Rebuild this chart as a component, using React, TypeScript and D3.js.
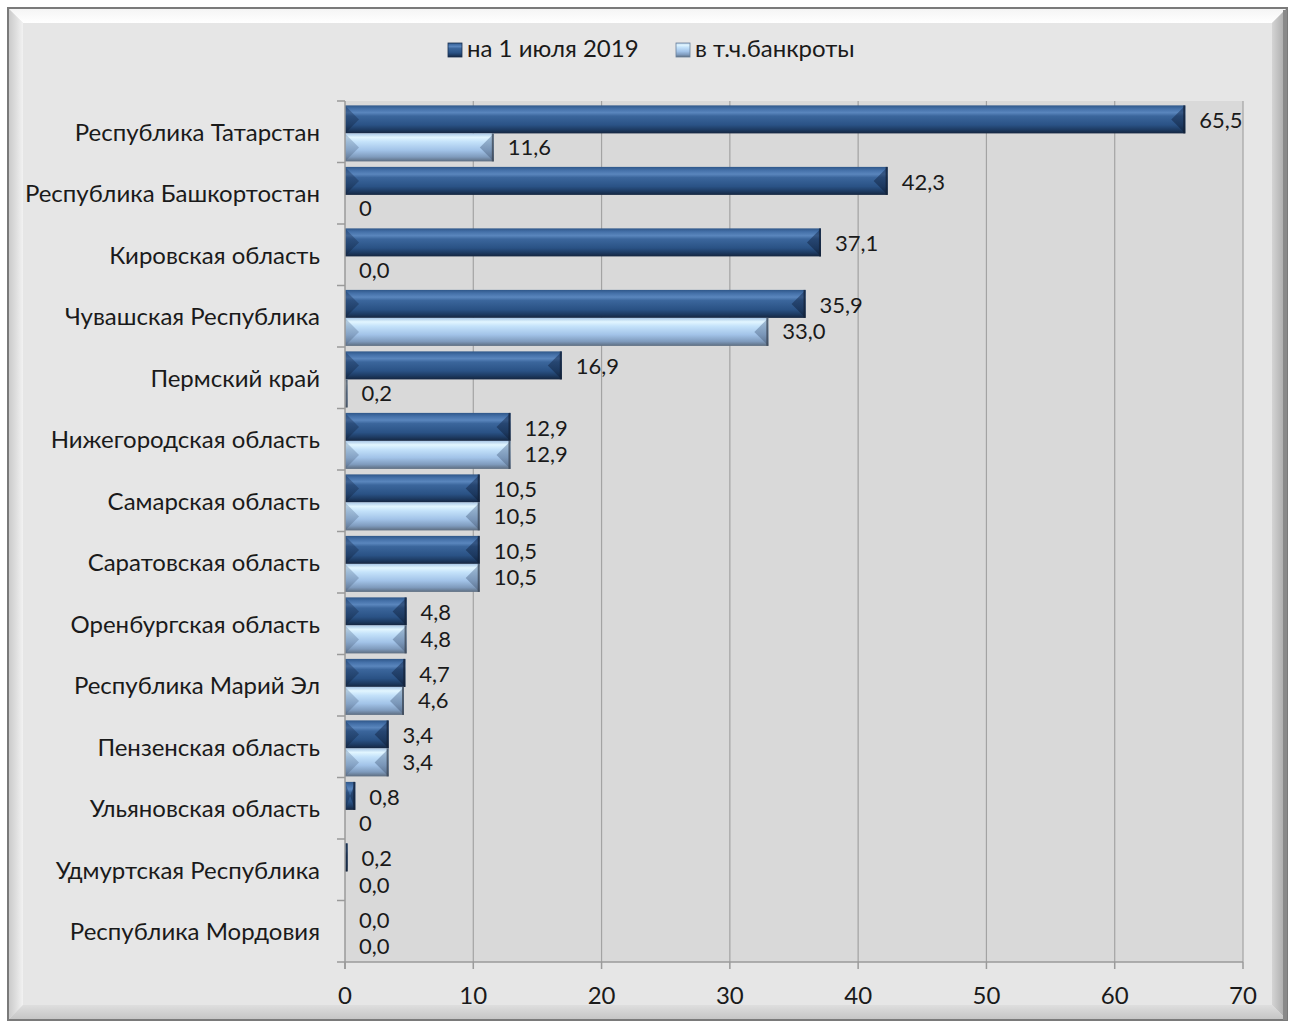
import * as d3 from 'd3'

const categories = [
  'Республика Татарстан',
  'Республика Башкортостан',
  'Кировская область',
  'Чувашская Республика',
  'Пермский край',
  'Нижегородская область',
  'Самарская область',
  'Саратовская область',
  'Оренбургская область',
  'Республика Марий Эл',
  'Пензенская область',
  'Ульяновская область',
  'Удмуртская Республика',
  'Республика Мордовия',
]
const totalValues = [65.5, 42.3, 37.1, 35.9, 16.9, 12.9, 10.5, 10.5, 4.8, 4.7, 3.4, 0.8, 0.2, 0.0]
const totalLabels = ['65,5', '42,3', '37,1', '35,9', '16,9', '12,9', '10,5', '10,5', '4,8', '4,7', '3,4', '0,8', '0,2', '0,0']
const bankruptValues = [11.6, 0, 0.0, 33.0, 0.2, 12.9, 10.5, 10.5, 4.8, 4.6, 3.4, 0, 0.0, 0.0]
const bankruptLabels = ['11,6', '0', '0,0', '33,0', '0,2', '12,9', '10,5', '10,5', '4,8', '4,6', '3,4', '0', '0,0', '0,0']
const seriesNames = ['на 1 июля 2019', 'в т.ч.банкроты']
const xTicks = [0, 10, 20, 30, 40, 50, 60, 70]

const W = 1291
const H = 1023
const plot = { left: 345, right: 1243, top: 101, bottom: 962 }
const font = 'Lato, "Open Sans", sans-serif'
const fs = 24

export default function App() {
  const x = d3.scaleLinear().domain([0, 70]).range([plot.left, plot.right])
  const y = d3.scaleBand<string>().domain(categories).range([plot.top, plot.bottom])
  const sub = d3.scaleBand<string>()
    .domain(['total', 'bankrupt'])
    .range([0, y.bandwidth()])
    .paddingOuter(0.098)
    .align(0.8)

  const series = [
    { key: 'total', values: totalValues, labels: totalLabels, grad: 'gDark', end: 'gDarkEnd', dy: 9 },
    { key: 'bankrupt', values: bankruptValues, labels: bankruptLabels, grad: 'gLight', end: 'gLightEnd', dy: 7.5 },
  ]

  const bevel = 15
  const frame = { x0: 8, y0: 8, x1: 1287, y1: 1020 }

  const bar = (v: number, top: number, h: number, grad: string, end: string, k: string, light: boolean) => {
    const x0 = x(0)
    const x1 = x(v)
    const w = x1 - x0
    if (w <= 0) return null
    const b = Math.min(14, w / 2)
    const y0 = top
    const y1 = top + h
    return (
      <g key={k}>
        <rect x={x0} y={y0} width={w} height={h} fill={`url(#${grad})`} />
        <polygon points={`${x0},${y0} ${x0 + b},${y0 + h / 2} ${x0},${y1}`} fill={`url(#${end})`} opacity={0.4} />
        <polygon points={`${x1},${y0} ${x1 - b},${y0 + h / 2} ${x1},${y1}`} fill={`url(#${end})`} opacity={0.55} />
        <line x1={x1 - 1} x2={x1 - 1} y1={y0} y2={y1} stroke={light ? '#3c4654' : '#142238'} strokeWidth={2} opacity={0.75} />
      </g>
    )
  }

  return (
    <svg width={W} height={H} style={{ position: 'absolute', left: 0, top: 0 }} fontFamily={font}>
      <defs>
        <linearGradient id="gDark" x1="0" y1="0" x2="0" y2="1">
          <stop offset="0" stopColor="#2f5789" />
          <stop offset="0.12" stopColor="#4470a8" />
          <stop offset="0.26" stopColor="#5a86bd" />
          <stop offset="0.38" stopColor="#3b669c" />
          <stop offset="0.7" stopColor="#2a5285" />
          <stop offset="0.86" stopColor="#1e3c64" />
          <stop offset="1" stopColor="#152640" />
        </linearGradient>
        <linearGradient id="gDarkEnd" x1="0" y1="0" x2="0" y2="1">
          <stop offset="0" stopColor="#1a3560" />
          <stop offset="1" stopColor="#0d1c33" />
        </linearGradient>
        <linearGradient id="gLight" x1="0" y1="0" x2="0" y2="1">
          <stop offset="0" stopColor="#a9c7e6" />
          <stop offset="0.14" stopColor="#e2f6ff" />
          <stop offset="0.3" stopColor="#c4e2fa" />
          <stop offset="0.6" stopColor="#a2c3e8" />
          <stop offset="0.84" stopColor="#7f9bbd" />
          <stop offset="1" stopColor="#5d6d80" />
        </linearGradient>
        <linearGradient id="gLightEnd" x1="0" y1="0" x2="0" y2="1">
          <stop offset="0" stopColor="#6f8fb5" />
          <stop offset="1" stopColor="#4a5d78" />
        </linearGradient>
        <linearGradient id="gTop" x1="0" y1="0" x2="0" y2="1">
          <stop offset="0" stopColor="#f4f4f4" />
          <stop offset="1" stopColor="#ffffff" />
        </linearGradient>
        <linearGradient id="gLeft" x1="0" y1="0" x2="1" y2="0">
          <stop offset="0" stopColor="#c8c8c8" />
          <stop offset="1" stopColor="#f2f2f2" />
        </linearGradient>
        <linearGradient id="gRight" x1="0" y1="0" x2="1" y2="0">
          <stop offset="0" stopColor="#d4d4d4" />
          <stop offset="1" stopColor="#a4a4a4" />
        </linearGradient>
        <linearGradient id="gBottom" x1="0" y1="0" x2="0" y2="1">
          <stop offset="0" stopColor="#dedede" />
          <stop offset="1" stopColor="#c4c4c4" />
        </linearGradient>
      </defs>

      <rect width={W} height={H} fill="#ffffff" />

      {/* beveled frame */}
      <rect x={frame.x0} y={frame.y0} width={frame.x1 - frame.x0} height={frame.y1 - frame.y0} fill="#e6e6e6" />
      <polygon points={`${frame.x0},${frame.y0} ${frame.x1},${frame.y0} ${frame.x1 - bevel},${frame.y0 + bevel} ${frame.x0 + bevel},${frame.y0 + bevel}`} fill="url(#gTop)" />
      <polygon points={`${frame.x0},${frame.y0} ${frame.x0 + bevel},${frame.y0 + bevel} ${frame.x0 + bevel},${frame.y1 - bevel} ${frame.x0},${frame.y1}`} fill="url(#gLeft)" />
      <polygon points={`${frame.x1},${frame.y0} ${frame.x1},${frame.y1} ${frame.x1 - bevel},${frame.y1 - bevel} ${frame.x1 - bevel},${frame.y0 + bevel}`} fill="url(#gRight)" />
      <polygon points={`${frame.x0},${frame.y1} ${frame.x1},${frame.y1} ${frame.x1 - bevel},${frame.y1 - bevel} ${frame.x0 + bevel},${frame.y1 - bevel}`} fill="url(#gBottom)" />
      <rect x={frame.x0} y={frame.y0} width={frame.x1 - frame.x0} height={frame.y1 - frame.y0} fill="none" stroke="#7a7a7a" strokeWidth={2} />
      <rect x={frame.x1 - 4} y={frame.y0 + 2} width={4} height={frame.y1 - frame.y0 - 2} fill="#8a8a8a" />

      {/* legend */}
      <g fontSize={24} fill="#1a1a1a">
        <rect x={448} y={43} width={14} height={14} fill="url(#gDark)" stroke="#1a3050" strokeWidth={0.8} />
        <text x={467} y={57}>{seriesNames[0]}</text>
        <rect x={676} y={43} width={14} height={14} fill="url(#gLight)" stroke="#6a7f99" strokeWidth={0.8} />
        <text x={695} y={57}>{seriesNames[1]}</text>
      </g>

      {/* plot area */}
      <rect x={plot.left} y={plot.top} width={plot.right - plot.left} height={plot.bottom - plot.top} fill="#d9d9d9" />
      {xTicks.slice(1).map(t => (
        <line key={t} x1={x(t)} x2={x(t)} y1={plot.top} y2={plot.bottom} stroke="#a3a3a3" strokeWidth={1.2} />
      ))}

      {/* bars */}
      {categories.map((c, i) => (
        <g key={c}>
          {series.map(s => bar(s.values[i], (y(c) ?? 0) + (sub(s.key) ?? 0), sub.bandwidth(), s.grad, s.end, s.key, s.key === 'bankrupt'))}
        </g>
      ))}

      {/* axes */}
      <line x1={plot.left} x2={plot.left} y1={plot.top} y2={plot.bottom + 7} stroke="#9a9a9a" strokeWidth={1.5} />
      <line x1={plot.left} x2={plot.right} y1={plot.bottom} y2={plot.bottom} stroke="#9a9a9a" strokeWidth={1.5} />
      {categories.concat(['']).map((c, i) => {
        const yy = plot.top + i * y.step()
        return <line key={i} x1={plot.left - 8} x2={plot.left} y1={yy} y2={yy} stroke="#9a9a9a" strokeWidth={1.5} />
      })}
      {xTicks.map(t => (
        <g key={t}>
          <line x1={x(t)} x2={x(t)} y1={plot.bottom} y2={plot.bottom + 7} stroke="#9a9a9a" strokeWidth={1.5} />
          <text x={x(t)} y={1004} textAnchor="middle" fontSize={fs} fill="#1a1a1a">{t}</text>
        </g>
      ))}

      {/* category labels */}
      {categories.map(c => (
        <text key={c} x={320} y={(y(c) ?? 0) + y.bandwidth() / 2 + 9} textAnchor="end" fontSize={fs} fill="#1a1a1a">{c}</text>
      ))}

      {/* data labels */}
      {categories.map((c, i) => (
        <g key={c} fontSize={22} fill="#1a1a1a">
          {series.map(s => (
            <text
              key={s.key}
              x={x(s.values[i]) + 14}
              y={(y(c) ?? 0) + (sub(s.key) ?? 0) + sub.bandwidth() / 2 + s.dy}
            >{s.labels[i]}</text>
          ))}
        </g>
      ))}
    </svg>
  )
}
